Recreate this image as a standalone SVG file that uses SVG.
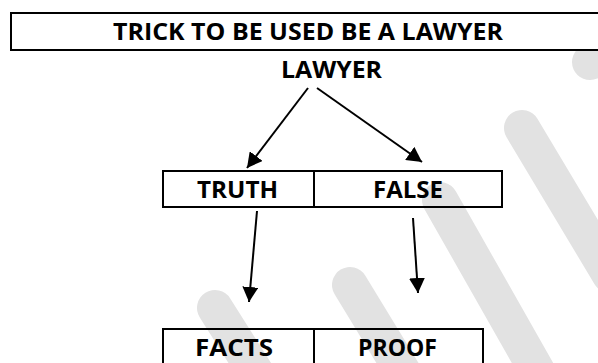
<svg xmlns="http://www.w3.org/2000/svg" width="598" height="363" viewBox="0 0 598 363">
<style>
.box{fill:none;stroke:#000;stroke-width:2}
.t{font-family:"Open Sans","Liberation Sans",sans-serif;font-weight:bold;font-size:24px;fill:#000}
.wm{fill:none;stroke:#e2e2e2;stroke-width:36;stroke-linecap:round}
.edge{stroke:#000;stroke-width:2;fill:none}
</style>
<defs>
<marker id="ah" markerUnits="userSpaceOnUse" markerWidth="16" markerHeight="16" refX="15" refY="8" orient="auto">
<path d="M0,0 L15,8 L0,16 Z" fill="#000"/>
</marker>
</defs>
<g id="watermark">
<line class="wm" x1="590" y1="62" x2="650" y2="0"/>
<line class="wm" x1="522" y1="128" x2="610" y2="275"/>
<line class="wm" x1="440" y1="200" x2="545" y2="385"/>
<line class="wm" x1="350" y1="285" x2="420" y2="400"/>
<line class="wm" x1="215" y1="308" x2="270" y2="395"/>
</g>
<g id="title">
<rect fill="#fff" x="11" y="13" width="600" height="37"/>
<rect class="box" x="11" y="13" width="600" height="37"/>
<text class="t" x="308" y="40" text-anchor="middle" textLength="390" lengthAdjust="spacingAndGlyphs">TRICK TO BE USED BE A LAWYER</text>
</g>
<g id="lawyer">
<text class="t" x="331.5" y="78" text-anchor="middle" textLength="101" lengthAdjust="spacingAndGlyphs">LAWYER</text>
</g>
<g id="truth">
<rect class="box" x="163" y="171" width="151" height="36"/>
<text class="t" x="237.5" y="198" text-anchor="middle" textLength="81" lengthAdjust="spacingAndGlyphs">TRUTH</text>
</g>
<g id="false">
<rect class="box" x="314" y="171" width="188" height="36"/>
<text class="t" x="408" y="198" text-anchor="middle" textLength="70" lengthAdjust="spacingAndGlyphs">FALSE</text>
</g>
<g id="facts">
<rect class="box" x="163" y="329" width="151" height="50"/>
<text class="t" x="234" y="356" text-anchor="middle" textLength="78" lengthAdjust="spacingAndGlyphs">FACTS</text>
</g>
<g id="proof">
<rect class="box" x="314" y="329" width="169" height="50"/>
<text class="t" x="397.5" y="356" text-anchor="middle" textLength="79" lengthAdjust="spacingAndGlyphs">PROOF</text>
</g>
<g id="connectors">
<line class="edge" x1="308" y1="88" x2="247" y2="168" marker-end="url(#ah)"/>
<line class="edge" x1="317" y1="88" x2="422" y2="162" marker-end="url(#ah)"/>
<line class="edge" x1="257" y1="211" x2="249" y2="302" marker-end="url(#ah)"/>
<line class="edge" x1="413" y1="218" x2="418" y2="293" marker-end="url(#ah)"/>
</g>
</svg>
